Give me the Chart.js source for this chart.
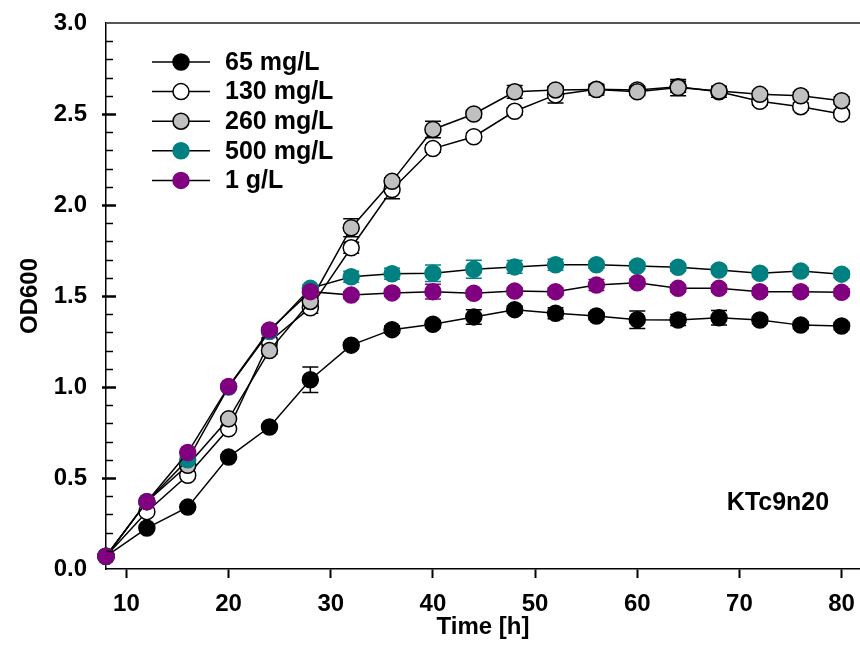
<!DOCTYPE html>
<html>
<head>
<meta charset="utf-8">
<script src="https://cdn.jsdelivr.net/npm/chart.js@4.4.1/dist/chart.umd.min.js"></script>
<style>
  html, body { margin: 0; padding: 0; background: #fff; }
  #wrap { width: 860px; height: 667px; position: relative; }
</style>
</head>
<body>
<div id="wrap"><canvas id="c" width="860" height="667"></canvas></div>
<script>
// ---- data ----
const time = [8, 12, 16, 20, 24, 28, 32, 36, 40, 44, 48, 52, 56, 60, 64, 68, 72, 76, 80];

const labels = ['65 mg/L', '130 mg/L', '260 mg/L', '500 mg/L', '1 g/L'];

const od65   = [0.07, 0.225, 0.34, 0.615, 0.78, 1.04, 1.23, 1.315, 1.345, 1.385, 1.425, 1.405, 1.39, 1.37, 1.368, 1.38, 1.368, 1.34, 1.335];
const od130  = [0.07, 0.315, 0.515, 0.77, 1.25, 1.435, 1.765, 2.085, 2.31, 2.375, 2.515, 2.605, 2.636, 2.632, 2.65, 2.622, 2.57, 2.54, 2.5];
const od260  = [0.07, 0.37, 0.57, 0.825, 1.2, 1.47, 1.875, 2.13, 2.415, 2.5, 2.622, 2.632, 2.634, 2.622, 2.645, 2.626, 2.608, 2.6, 2.573];
const od500  = [0.07, 0.37, 0.6, 1.0, 1.305, 1.542, 1.606, 1.622, 1.625, 1.647, 1.66, 1.672, 1.672, 1.665, 1.658, 1.643, 1.625, 1.637, 1.62];
const od1000 = [0.07, 0.37, 0.64, 1.003, 1.313, 1.524, 1.505, 1.517, 1.524, 1.515, 1.527, 1.524, 1.56, 1.573, 1.542, 1.542, 1.524, 1.524, 1.52];

const err65   = [0, 0, 0, 0, 0, 0.07, 0, 0.02, 0.02, 0.04, 0.02, 0.03, 0.02, 0.048, 0.03, 0.04, 0.02, 0.02, 0.02];
const err130  = [0, 0, 0, 0, 0.02, 0.03, 0.03, 0.05, 0.02, 0.02, 0.02, 0.045, 0.02, 0.02, 0.03, 0.03, 0.02, 0.02, 0.02];
const err260  = [0, 0, 0, 0, 0.02, 0.02, 0.05, 0.02, 0.045, 0.02, 0.035, 0.02, 0.03, 0.02, 0.045, 0.02, 0.02, 0.02, 0.02];
const err500  = [0, 0, 0, 0, 0, 0.02, 0.03, 0.03, 0.045, 0.05, 0.035, 0.03, 0.02, 0.02, 0.02, 0.02, 0.02, 0.02, 0.02];
const err1000 = [0, 0, 0, 0, 0, 0, 0.02, 0.02, 0.04, 0.02, 0.02, 0.02, 0.03, 0.02, 0.02, 0.02, 0.02, 0.02, 0.02];

const xTicks = [10, 20, 30, 40, 50, 60, 70, 80];
const yTicks = [0, 0.5, 1.0, 1.5, 2.0, 2.5, 3.0];

const xTitle = 'Time [h]';
const yTitle = 'OD600';
const strainLabel = 'KTc9n20';

// ---- styles ----
const FONT = "'Liberation Sans', Arial, Helvetica, sans-serif";
const fills   = ['#000000', '#ffffff', '#c0c0c0', '#008080', '#800080'];
const borders = ['#000000', '#000000', '#000000', '#008080', '#800080'];
const errColors = ['#000000', '#000000', '#000000', '#008080', '#800080'];
const drawOrder = [4, 3, 2, 1, 0];

const series = [od65, od130, od260, od500, od1000];
const errs = [err65, err130, err260, err500, err1000];

const datasets = series.map((vals, i) => ({
  label: labels[i],
  data: vals.map((v, k) => ({ x: time[k], y: v })),
  errors: errs[i],
  errColor: errColors[i],
  borderColor: '#000000',
  borderWidth: 1.5,
  tension: 0,
  pointRadius: 8,
  pointHoverRadius: 8,
  pointBackgroundColor: fills[i],
  pointBorderColor: borders[i],
  pointBorderWidth: 1.5,
  order: drawOrder[i],
  clip: false
}));

// error bars drawn just before each dataset
const errorBarPlugin = {
  id: 'errorBars',
  beforeDatasetDraw(chart, args) {
    const ds = chart.data.datasets[args.index];
    const meta = chart.getDatasetMeta(args.index);
    const ys = chart.scales.y;
    const ctx = chart.ctx;
    ctx.save();
    ctx.strokeStyle = ds.errColor;
    ctx.lineWidth = 1.5;
    meta.data.forEach((pt, k) => {
      const e = ds.errors[k];
      if (!e) return;
      const v = ds.data[k].y;
      const yTop = ys.getPixelForValue(v + e);
      const yBot = ys.getPixelForValue(v - e);
      const x = pt.x;
      ctx.beginPath();
      ctx.moveTo(x, yTop); ctx.lineTo(x, yBot);
      ctx.moveTo(x - 8, yTop); ctx.lineTo(x + 8, yTop);
      ctx.moveTo(x - 8, yBot); ctx.lineTo(x + 8, yBot);
      ctx.stroke();
    });
    ctx.restore();
  }
};

// frame: top line + inward minor ticks on y axis
const framePlugin = {
  id: 'frame',
  afterDraw(chart) {
    const { ctx, chartArea } = chart;
    const ys = chart.scales.y;
    ctx.save();
    ctx.strokeStyle = '#555555';
    ctx.lineWidth = 2;
    ctx.beginPath();
    ctx.moveTo(chartArea.left, chartArea.top);
    ctx.lineTo(chartArea.right, chartArea.top);
    ctx.stroke();
    ctx.strokeStyle = '#000000';
    for (let k = 1; k < 30; k++) {
      const y = Math.round(ys.getPixelForValue(k / 10)) + 0.5;
      const major = k % 5 === 0;
      ctx.lineWidth = major ? 2.5 : 1.5;
      ctx.beginPath();
      ctx.moveTo(chartArea.left - (major ? 4 : 0), y);
      ctx.lineTo(chartArea.left + (major ? 10 : 7), y);
      ctx.stroke();
    }
    ctx.restore();
  }
};

// legend (line + marker + text) and strain annotation inside plot area
const legendPlugin = {
  id: 'innerLegend',
  afterDraw(chart) {
    const { ctx, chartArea } = chart;
    const x0 = chartArea.left + 46;
    const x1 = chartArea.left + 104;
    const xm = chartArea.left + 75;
    const xt = chartArea.left + 119;
    ctx.save();
    chart.data.datasets.forEach((ds, i) => {
      const y = chartArea.top + 39 + i * 29.6;
      ctx.strokeStyle = '#000';
      ctx.lineWidth = 1.5;
      ctx.beginPath();
      ctx.moveTo(x0, y); ctx.lineTo(x1, y);
      ctx.stroke();
      ctx.beginPath();
      ctx.arc(xm, y, 8, 0, Math.PI * 2);
      ctx.fillStyle = ds.pointBackgroundColor;
      ctx.fill();
      ctx.strokeStyle = ds.pointBorderColor;
      ctx.stroke();
      ctx.fillStyle = '#000';
      ctx.font = 'bold 25px ' + FONT;
      ctx.textAlign = 'left';
      ctx.textBaseline = 'middle';
      ctx.fillText(ds.label, xt, y + 1);
    });
    ctx.font = 'bold 25px ' + FONT;
    ctx.textAlign = 'center';
    ctx.textBaseline = 'middle';
    ctx.fillStyle = '#000';
    ctx.fillText(strainLabel, chartArea.left + 672, 503);
    ctx.restore();
  }
};

new Chart(document.getElementById('c'), {
  type: 'line',
  data: { datasets },
  options: {
    responsive: false,
    devicePixelRatio: 1,
    animation: false,
    events: [],
    layout: { autoPadding: false, padding: { top: 23, right: 0, left: 0, bottom: 0 } },
    plugins: { legend: { display: false }, tooltip: { enabled: false } },
    scales: {
      x: {
        type: 'linear',
        min: 8,
        max: 81.8,
        afterBuildTicks: (s) => { s.ticks = xTicks.map(v => ({ value: v })); },
        afterFit: (s) => { s.height = 98; s.paddingLeft = 0; s.paddingRight = 0; },
        grid: { display: true, drawOnChartArea: false, drawTicks: true, tickLength: 9, tickColor: '#000', tickWidth: 2 },
        border: { display: true, color: '#000', width: 1.5 },
        ticks: { color: '#000', font: { family: FONT, size: 24, weight: 'bold' }, padding: 12, maxRotation: 0 },
        title: { display: true, text: xTitle, color: '#000', font: { family: FONT, size: 24, weight: 'bold' }, padding: { top: 0, bottom: 25 } }
      },
      y: {
        type: 'linear',
        min: 0,
        max: 3,
        afterBuildTicks: (s) => { s.ticks = yTicks.map(v => ({ value: v })); },
        afterFit: (s) => { s.width = 106; s.paddingTop = 0; s.paddingBottom = 0; },
        grid: { display: false, drawTicks: false },
        border: { display: true, color: '#000', width: 1.5 },
        ticks: { color: '#000', font: { family: FONT, size: 24, weight: 'bold' }, padding: 19, callback: (v) => Number(v).toFixed(1) },
        title: { display: true, text: yTitle, color: '#000', font: { family: FONT, size: 24, weight: 'bold' }, padding: { top: 16, bottom: 0 } }
      }
    }
  },
  plugins: [errorBarPlugin, framePlugin, legendPlugin]
});
</script>
</body>
</html>
